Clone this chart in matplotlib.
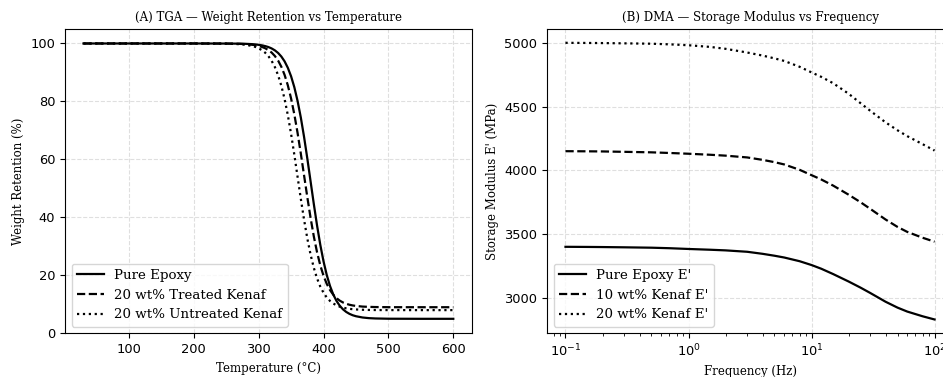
import matplotlib
matplotlib.use("Agg")
import matplotlib.pyplot as plt

# ---------------- TGA data ----------------
temperature_c = [30, 100, 150, 200, 250, 270, 280, 290, 295, 300, 305, 310, 315, 320,
                 325, 330, 335, 340, 345, 350, 355, 360, 365, 370, 375, 380, 385, 390,
                 395, 400, 405, 410, 415, 420, 425, 430, 435, 440, 445, 450, 460, 470,
                 480, 500, 550, 600]

tga_pure_epoxy = [100.0, 100.0, 100.0, 100.0, 99.97, 99.94, 99.88, 99.77, 99.67, 99.54,
                  99.36, 99.11, 98.77, 98.29, 97.63, 96.73, 95.49, 93.83, 91.60, 88.68,
                  84.91, 80.18, 74.45, 67.77, 60.34, 52.50, 44.66, 37.23, 30.55, 24.82,
                  20.09, 16.32, 13.40, 11.17, 9.51, 8.27, 7.37, 6.71, 6.23, 5.89, 5.46,
                  5.23, 5.12, 5.03, 5.00, 5.00]

tga_treated_kenaf = [100.0, 100.0, 100.0, 100.0, 99.97, 99.88, 99.78, 99.56, 99.39, 99.15,
                     98.82, 98.36, 97.73, 96.87, 95.68, 94.09, 91.96, 89.15, 85.54, 81.02,
                     75.53, 69.13, 62.01, 54.50, 46.99, 39.87, 33.47, 27.98, 23.46, 19.85,
                     17.04, 14.91, 13.32, 12.13, 11.27, 10.64, 10.18, 9.85, 9.61, 9.44,
                     9.22, 9.12, 9.06, 9.01, 9.00, 9.00]

tga_untreated_kenaf = [100.0, 100.0, 100.0, 99.99, 99.94, 99.77, 99.56, 99.14, 98.81, 98.35,
                       97.71, 96.83, 95.64, 94.02, 91.87, 89.03, 85.38, 80.81, 75.26, 68.79,
                       61.60, 54.00, 46.40, 39.21, 32.74, 27.19, 22.62, 18.97, 16.13, 13.98,
                       12.36, 11.17, 10.29, 9.66, 9.19, 8.86, 8.62, 8.44, 8.32, 8.23, 8.12,
                       8.06, 8.03, 8.01, 8.00, 8.00]

tga_labels = ["Pure Epoxy", "20 wt% Treated Kenaf", "20 wt% Untreated Kenaf"]

# ---------------- DMA data ----------------
frequency_hz = [0.1, 0.15, 0.2, 0.3, 0.5, 0.7, 1, 1.5, 2, 3, 4, 5, 6, 8, 10, 12, 15,
                20, 25, 30, 40, 50, 60, 80, 100]

dma_pure_epoxy = [3400, 3399, 3398, 3396, 3393, 3389, 3383, 3377, 3372, 3361, 3345, 3330,
                  3316, 3287, 3257, 3228, 3186, 3128, 3080, 3038, 2969, 2923, 2892, 2855,
                  2830]

dma_kenaf_10 = [4150, 4149, 4148, 4145, 4141, 4136, 4130, 4122, 4115, 4101, 4082, 4064,
                4046, 4004, 3962, 3928, 3880, 3809, 3750, 3698, 3614, 3556, 3517, 3471,
                3440]

dma_kenaf_20 = [5000, 4999, 4998, 4996, 4993, 4988, 4981, 4968, 4953, 4924, 4900, 4878,
                4858, 4812, 4768, 4733, 4683, 4601, 4527, 4467, 4376, 4314, 4268, 4205,
                4155]

dma_labels = ["Pure Epoxy E'", "10 wt% Kenaf E'", "20 wt% Kenaf E'"]

# ---------------- plotting ----------------
plt.rcParams["font.family"] = ["DejaVu Sans"]
serif = ["DejaVu Serif"]
TITLE_FS = 8.5
LABEL_FS = 8.5
TICK_FS = 9.4
LEG_FS = 9.6

fig = plt.figure(figsize=(9.43, 3.77), dpi=100)
ax1 = fig.add_axes([0.0689, 0.1159, 0.4314, 0.8072])
ax2 = fig.add_axes([0.5801, 0.1159, 0.4305, 0.8072])

styles = ["-", "--", ":"]
lw = 1.6

for y, ls, lab in zip([tga_pure_epoxy, tga_treated_kenaf, tga_untreated_kenaf], styles, tga_labels):
    ax1.plot(temperature_c, y, color="black", linestyle=ls, linewidth=lw, label=lab)
ax1.set_ylim(0, 105)
ax1.set_title("(A) TGA \u2014 Weight Retention vs Temperature", fontsize=TITLE_FS, family=serif)
ax1.set_xlabel("Temperature (\u00b0C)", fontsize=LABEL_FS, family=serif)
ax1.set_ylabel("Weight Retention (%)", fontsize=LABEL_FS, family=serif)

for y, ls, lab in zip([dma_pure_epoxy, dma_kenaf_10, dma_kenaf_20], styles, dma_labels):
    ax2.plot(frequency_hz, y, color="black", linestyle=ls, linewidth=lw, label=lab)
ax2.set_xscale("log")
ax2.set_title("(B) DMA \u2014 Storage Modulus vs Frequency", fontsize=TITLE_FS, family=serif)
ax2.set_xlabel("Frequency (Hz)", fontsize=LABEL_FS, family=serif)
ax2.set_ylabel("Storage Modulus E' (MPa)", fontsize=LABEL_FS, family=serif)

for ax in (ax1, ax2):
    ax.grid(True, which="major", linestyle="--", color="#b0b0b0", alpha=0.4, linewidth=0.8)
    ax.tick_params(labelsize=TICK_FS)
    ax.legend(loc="lower left", prop={"family": serif, "size": LEG_FS})

fig.savefig("out.png", dpi=100)
